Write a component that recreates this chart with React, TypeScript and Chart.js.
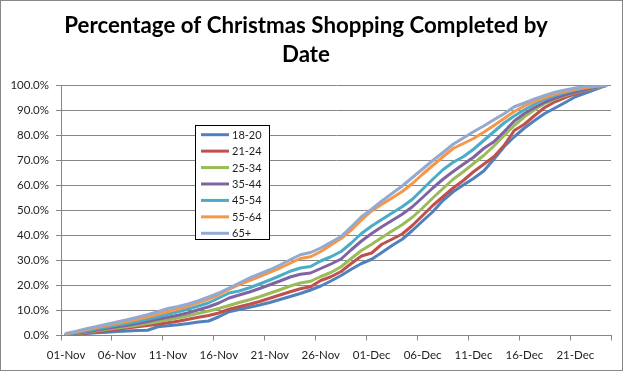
import React, { useEffect, useRef } from "react";
import { Chart, registerables } from "chart.js";

Chart.register(...registerables);

const dates = [
  "01-Nov", "02-Nov", "03-Nov", "04-Nov", "05-Nov", "06-Nov", "07-Nov", "08-Nov", "09-Nov", "10-Nov",
  "11-Nov", "12-Nov", "13-Nov", "14-Nov", "15-Nov", "16-Nov", "17-Nov", "18-Nov", "19-Nov", "20-Nov",
  "21-Nov", "22-Nov", "23-Nov", "24-Nov", "25-Nov", "26-Nov", "27-Nov", "28-Nov", "29-Nov", "30-Nov",
  "01-Dec", "02-Dec", "03-Dec", "04-Dec", "05-Dec", "06-Dec", "07-Dec", "08-Dec", "09-Dec", "10-Dec",
  "11-Dec", "12-Dec", "13-Dec", "14-Dec", "15-Dec", "16-Dec", "17-Dec", "18-Dec", "19-Dec", "20-Dec",
  "21-Dec", "22-Dec", "23-Dec", "24-Dec",
];

const age18to20 = [
  0.2, 0.5, 0.8, 1.1, 1.3, 1.6, 1.8, 2.0, 2.1, 3.5,
  3.9, 4.3, 4.8, 5.4, 5.8, 7.5, 9.5, 10.4, 11.3, 12.2,
  13.2, 14.4, 15.6, 16.8, 18.2, 19.8, 21.8, 24.0, 26.5, 28.8,
  30.5, 33.2, 36.0, 38.5, 42.0, 45.8, 49.5, 54.0, 57.5, 60.2,
  62.8, 65.8, 70.5, 75.5, 79.5, 83.0, 86.0, 88.8, 91.0, 93.2,
  95.5, 97.0, 98.5, 100,
];
const age21to24 = [
  0.3, 0.6, 1.0, 1.5, 2.0, 2.5, 3.0, 3.5, 4.0, 4.5,
  5.1, 5.7, 6.5, 7.3, 8.0, 9.0, 10.5, 11.5, 12.5, 13.6,
  14.9, 16.2, 17.5, 18.7, 19.5, 22.0, 23.5, 25.6, 28.8, 31.8,
  33.0, 36.5, 38.5, 40.6, 44.0, 48.0, 52.0, 55.5, 59.0, 62.0,
  65.5, 68.5, 71.5, 76.0, 82.0, 84.5, 88.0, 91.2, 93.5, 95.2,
  96.7, 98.0, 99.1, 100,
];
const age25to34 = [
  0.4, 0.8, 1.3, 1.9, 2.5, 3.0, 3.5, 4.1, 4.8, 5.5,
  6.3, 7.0, 7.9, 8.9, 9.8, 10.8, 12.0, 13.2, 14.3, 15.5,
  16.9, 18.3, 19.8, 21.0, 21.7, 23.6, 25.2, 27.5, 30.8, 34.0,
  36.5, 39.2, 41.8, 44.3, 47.3, 51.0, 55.0, 58.8, 62.5, 65.5,
  68.8, 72.0, 75.8, 80.0, 84.0, 87.5, 90.3, 92.8, 94.6, 96.0,
  97.2, 98.2, 99.1, 100,
];
const age35to44 = [
  0.4, 0.9, 1.5, 2.2, 2.9, 3.5, 4.1, 4.8, 5.6, 6.5,
  7.3, 8.1, 9.1, 10.3, 11.5, 13.0, 15.0, 16.2, 17.4, 18.8,
  20.3, 21.8, 23.4, 24.5, 25.0, 26.8, 28.6, 30.6, 34.3, 37.8,
  40.8, 43.5, 46.0, 48.5, 51.5, 55.2, 59.0, 62.5, 65.6, 68.5,
  71.3, 74.8, 77.5, 81.5, 85.8, 88.8, 91.2, 93.3, 95.0, 96.3,
  97.4, 98.4, 99.3, 100,
];
const age45to54 = [
  0.5, 1.1, 1.9, 2.7, 3.4, 4.1, 4.8, 5.6, 6.5, 7.5,
  8.5, 9.5, 10.6, 11.8, 13.1, 15.0, 17.0, 17.8, 19.1, 20.6,
  22.2, 23.9, 25.7, 27.0, 27.6, 29.8, 31.5, 33.6, 37.0, 40.8,
  43.8, 46.4, 49.0, 51.5, 54.5, 58.5, 62.5, 66.3, 69.3, 71.5,
  74.5, 78.0, 81.5, 85.0, 87.8, 90.3, 92.5, 94.5, 96.0, 97.2,
  98.2, 99.0, 99.6, 100,
];
const age55to64 = [
  0.6, 1.4, 2.3, 3.2, 4.0, 4.8, 5.6, 6.5, 7.4, 8.5,
  9.6, 10.6, 11.8, 13.2, 14.6, 16.3, 18.5, 20.3, 22.0, 23.6,
  25.3, 27.0, 28.9, 30.8, 31.5, 33.6, 36.2, 38.8, 42.2, 46.2,
  49.8, 52.5, 55.0, 57.6, 60.8, 64.5, 68.0, 71.5, 74.8, 76.8,
  78.8, 81.3, 84.0, 86.8, 89.6, 91.8, 93.6, 95.2, 96.6, 97.6,
  98.5, 99.2, 99.7, 100,
];
const age65plus = [
  0.8, 1.7, 2.7, 3.6, 4.5, 5.4, 6.3, 7.3, 8.3, 9.5,
  10.8, 11.6, 12.6, 13.9, 15.4, 17.0, 19.0, 21.0, 23.0, 24.6,
  26.3, 28.2, 30.3, 32.3, 33.2, 35.0, 37.3, 39.6, 43.5, 47.5,
  50.5, 53.8, 56.8, 59.8, 63.2, 66.6, 70.0, 73.2, 76.5, 79.0,
  81.5, 83.8, 86.3, 88.7, 91.5, 93.0, 94.6, 96.0, 97.3, 98.2,
  99.0, 99.6, 99.9, 100,
];

const seriesNames = ["18-20", "21-24", "25-34", "35-44", "45-54", "55-64", "65+"];
const seriesValues = [age18to20, age21to24, age25to34, age35to44, age45to54, age55to64, age65plus];
const seriesColors = ["#4F81BD", "#C0504D", "#9BBB59", "#8064A2", "#4BACC6", "#F79646", "#93A9CF"];
const titleLines = ["Percentage of Christmas Shopping Completed by", "Date"];
const yMin = 0;
const yMax = 100;
const yStep = 10;
const labelEvery = 5;

const GRID = "#878787";
const TEXT = "#1e1e1e";
const FONT = "Lato";

const floatingLegend = {
  id: "floatingLegend",
  afterDraw(chart: any) {
    const ctx = chart.ctx;
    const x0 = 194.5, y0 = 124.5, w = 74, h = 114;
    ctx.save();
    ctx.fillStyle = "#ffffff";
    ctx.fillRect(x0, y0, w, h);
    ctx.strokeStyle = "#000000";
    ctx.lineWidth = 1;
    ctx.strokeRect(x0, y0, w, h);
    ctx.font = `11px ${FONT}`;
    ctx.textBaseline = "middle";
    ctx.textAlign = "left";
    chart.data.datasets.forEach((ds: any, i: number) => {
      const y = 133.7 + i * 16.43;
      ctx.strokeStyle = ds.borderColor;
      ctx.lineWidth = 3;
      ctx.lineCap = "butt";
      ctx.beginPath();
      ctx.moveTo(200, y);
      ctx.lineTo(228, y);
      ctx.stroke();
      ctx.fillStyle = TEXT;
      ctx.fillText(ds.label, 231, y + 0.5);
    });
    ctx.restore();
  },
};

export default function App() {
  const canvasRef = useRef<HTMLCanvasElement | null>(null);

  useEffect(() => {
    const canvas = canvasRef.current;
    if (!canvas) return;
    const chart = new Chart(canvas, {
      type: "line",
      data: {
        labels: dates,
        datasets: seriesNames.map((name, i) => ({
          label: name,
          data: seriesValues[i],
          borderColor: seriesColors[i],
          backgroundColor: seriesColors[i],
          borderWidth: 3,
          pointRadius: 0,
          tension: 0,
          borderJoinStyle: "round" as const,
          borderCapStyle: "round" as const,
          fill: false,
          order: seriesNames.length - i,
        })),
      },
      options: {
        responsive: false,
        animation: false,
        devicePixelRatio: 1,
        layout: { padding: { left: 0, right: 11, top: 0, bottom: 0 } },
        plugins: {
          legend: { display: false },
          tooltip: { enabled: false },
          title: {
            display: true,
            text: titleLines,
            color: "#000000",
            font: { family: FONT, size: 22.3, weight: "bold", lineHeight: 29 / 22.3 },
            padding: { top: 10.5, bottom: 16 },
          },
        },
        scales: {
          x: {
            type: "category",
            offset: true,
            afterFit: (scale: any) => {
              scale.height = 34.5;
            },
            grid: {
              offset: true,
              drawOnChartArea: false,
              drawTicks: true,
              tickLength: 5,
              color: (ctx: any) =>
                ctx.index === undefined || ctx.index % labelEvery === 0 ? GRID : "rgba(0,0,0,0)",
            },
            border: { display: true, color: GRID, width: 1 },
            ticks: {
              autoSkip: false,
              maxRotation: 0,
              minRotation: 0,
              padding: 8,
              color: TEXT,
              font: { family: FONT, size: 11.5 },
              callback: (_v: any, index: number) => (index % labelEvery === 0 ? dates[index] : ""),
            },
          },
          y: {
            min: yMin,
            max: yMax,
            afterFit: (scale: any) => {
              scale.width = 60;
            },
            grid: {
              color: GRID,
              lineWidth: 1,
              drawTicks: true,
              tickLength: 5,
            },
            border: { display: true, color: GRID, width: 1 },
            ticks: {
              stepSize: yStep,
              padding: 7,
              color: TEXT,
              font: { family: FONT, size: 11.5 },
              callback: (v: any) => Number(v).toFixed(1) + "%",
            },
          },
        },
      },
      plugins: [floatingLegend],
    });
    return () => chart.destroy();
  }, []);

  return (
    <div
      style={{
        position: "fixed",
        left: 0,
        top: 0,
        width: 623,
        height: 371,
        border: "1px solid #888888",
        boxSizing: "border-box",
        background: "#ffffff",
      }}
    >
      <canvas ref={canvasRef} width={621} height={369} style={{ display: "block" }} />
    </div>
  );
}
